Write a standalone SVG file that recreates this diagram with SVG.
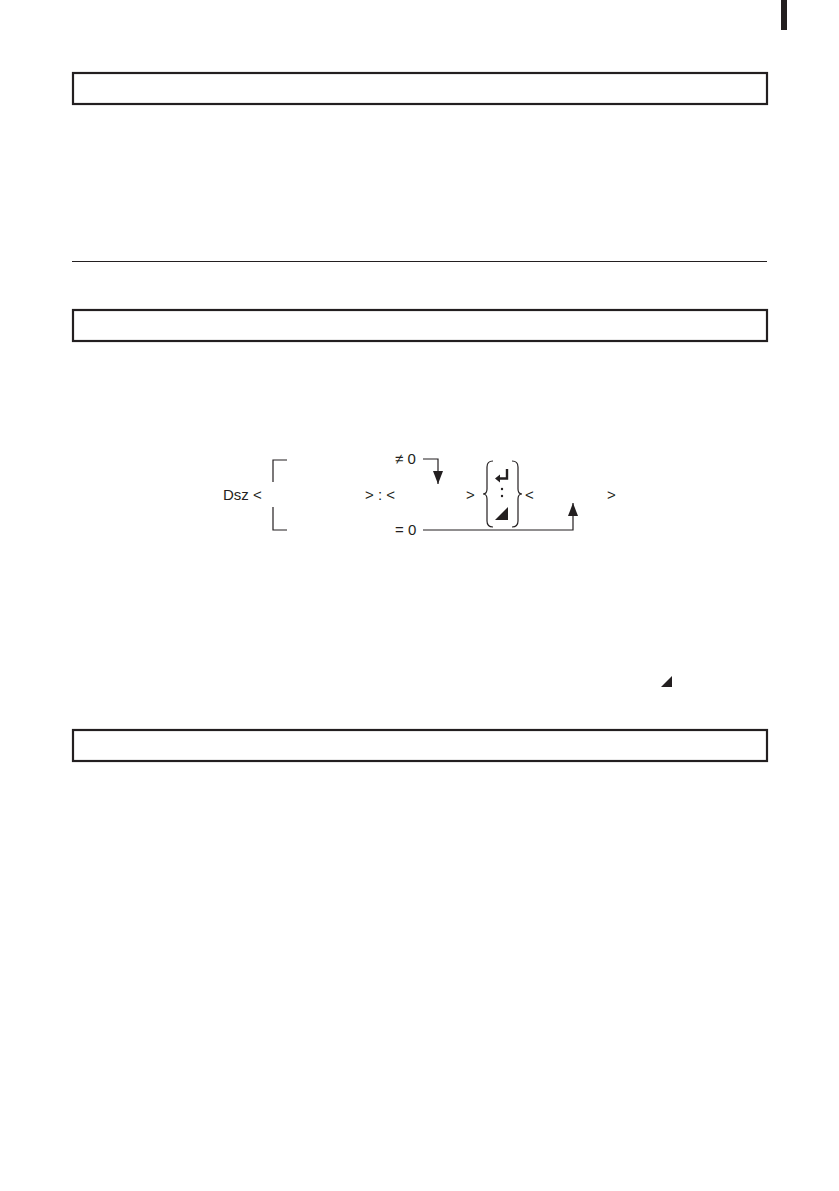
<svg xmlns="http://www.w3.org/2000/svg" width="839" height="1191" viewBox="0 0 839 1191">
<style>
.box{fill:none;stroke:#231f20;stroke-width:2.2}
.rule{stroke:#231f20;stroke-width:1.2;fill:none}
.ln{stroke:#231f20;stroke-width:1.2;fill:none}
.t{font-family:"Liberation Sans",Arial,sans-serif;font-size:15px;fill:#231f20}
.blk{fill:#231f20}
</style>
<defs>
<marker id="ah" markerWidth="13" markerHeight="10" refX="13" refY="5" orient="auto" markerUnits="userSpaceOnUse" viewBox="0 0 13 10">
<path d="M0,0 L13,5 L0,10 Z" class="blk"/>
</marker>
</defs>
<rect x="781" y="0" width="6" height="30" class="blk"/>
<g id="box1"><rect class="box" x="73" y="73" width="694" height="31"/></g>
<g id="rule"><line class="rule" x1="72" y1="261.5" x2="767" y2="261.5"/></g>
<g id="box2"><rect class="box" x="73" y="310" width="694" height="31"/></g>
<g id="box3"><rect class="box" x="73" y="730" width="694" height="31"/></g>
<g id="syntax">
<text class="t" x="223" y="500">Dsz &lt;</text>
<path class="ln" d="M287,460 H273 V482 M273,507 V530 H287"/>
<text class="t" x="365" y="500">&gt; : &lt;</text>
<text class="t" x="466" y="500">&gt;</text>
<text class="t" x="525" y="500">&lt;</text>
<text class="t" x="607" y="500">&gt;</text>
<text class="t" x="395" y="464">≠ 0</text>
<text class="t" x="395" y="535">= 0</text>
</g>
<g id="brace">
<path class="ln" d="M493,461 Q487,461 487,467 L487,489 Q487,494 483,494 Q487,494 487,499 L487,521 Q487,527 493,527"/>
<path class="ln" d="M512,461 Q518,461 518,467 L518,489 Q518,494 522,494 Q518,494 518,499 L518,521 Q518,527 512,527"/>
<path d="M507,469 V478.5 H499" fill="none" stroke="#231f20" stroke-width="2.4"/>
<path d="M495,478.5 L500,474.5 L500,482.5 Z" class="blk"/>
<circle cx="502" cy="489" r="1.2" class="blk"/>
<circle cx="502" cy="496" r="1.2" class="blk"/>
<path d="M495,520 L508,520 L508,507 Z" class="blk"/>
</g>
<g id="connectors">
<path class="ln" d="M423,459 H438 V484" marker-end="url(#ah)"/>
<path class="ln" d="M423,530 H573 V503" marker-end="url(#ah)"/>
</g>
<g id="note-symbol"><path d="M661,687 L672,687 L672,676 Z" class="blk"/></g>
</svg>
